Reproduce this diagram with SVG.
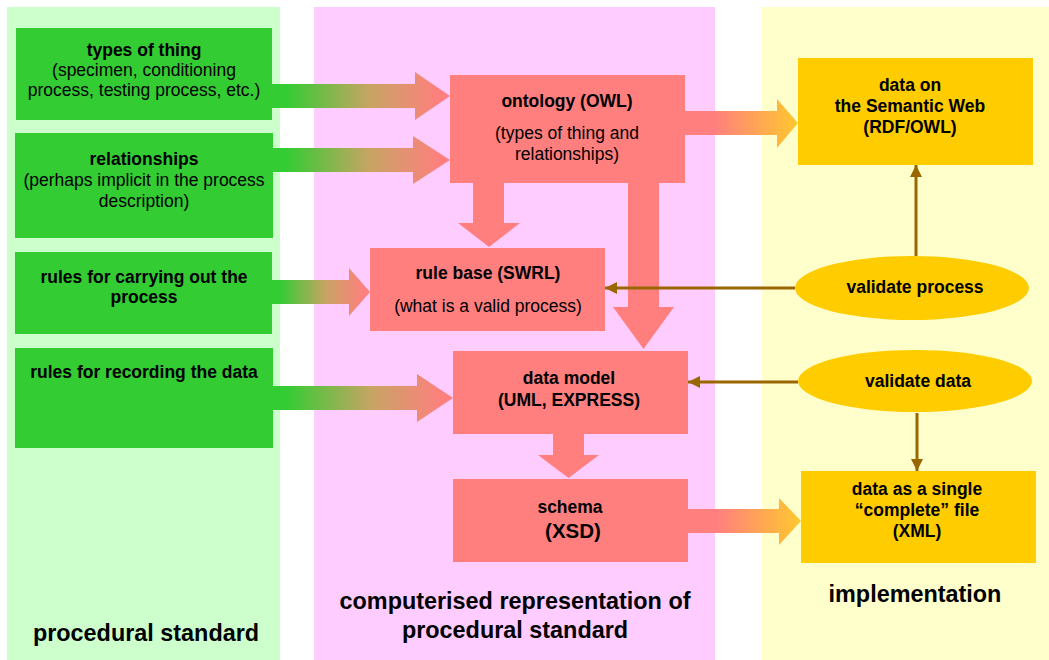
<svg xmlns="http://www.w3.org/2000/svg" width="1049" height="660" viewBox="0 0 1049 660">
<style>
text{font-family:"Liberation Sans",Arial,sans-serif;font-size:17.5px;fill:#000;text-anchor:middle}
.b{font-weight:bold}
.big{font-weight:bold;font-size:23.4px}
.gbox{fill:#33CC33}
.pbox{fill:#FF7F7F}
.ybox{fill:#FFCC00}
.link{stroke:#996600;stroke-width:3;fill:none;marker-end:url(#ah)}
.pink{fill:#FF7F7F}
</style>
<defs>
<marker id="ah" viewBox="0 0 12 12" refX="12" refY="6" markerWidth="13" markerHeight="12" orient="auto" markerUnits="userSpaceOnUse">
<path d="M0,0 L12,6 L0,12 z" fill="#996600"/>
</marker>
<linearGradient id="gp" x1="0" y1="0" x2="1" y2="0">
<stop offset="0.08" stop-color="#33CC33"/>
<stop offset="0.55" stop-color="#C8A464"/>
<stop offset="0.95" stop-color="#FF7F7F"/>
</linearGradient>
<linearGradient id="py" x1="0" y1="0" x2="1" y2="0">
<stop offset="0.25" stop-color="#FF7F7F"/>
<stop offset="1" stop-color="#FFC82E"/>
</linearGradient>
</defs>
<g id="panels">
<rect x="7" y="7" width="273" height="653" fill="#CCFFCC"/>
<rect x="314" y="7" width="401" height="653" fill="#FFCCFF"/>
<rect x="762" y="7" width="287" height="653" fill="#FFFFCC"/>
<text class="big" x="146" y="641">procedural standard</text>
<text class="big" x="515" y="609">computerised representation of</text>
<text class="big" x="515" y="638">procedural standard</text>
<text class="big" x="915" y="602">implementation</text>
</g>
<g id="connectors">
<polygon fill="url(#gp)" points="272,84 415,84 415,72 450,96 415,120 415,108 272,108"/>
<polygon fill="url(#gp)" points="272,148 413,148 413,136 450,160 413,184 413,172 272,172"/>
<polygon fill="url(#gp)" points="272,280 349,280 349,268 370,292 349,316 349,304 272,304"/>
<polygon fill="url(#gp)" points="272,386 417,386 417,374 453,398 417,422 417,410 272,410"/>
<polygon class="pink" points="473,183 504,183 504,223 520,223 489,247 458,223 473,223"/>
<polygon class="pink" points="628,183 659,183 659,307 674,307 643.5,349 613,307 628,307"/>
<polygon class="pink" points="553,434 584,434 584,455 599,455 568.5,478 538,455 553,455"/>
<polygon fill="url(#py)" points="685,111 777,111 777,99 798,123 777,148 777,135 685,135"/>
<polygon fill="url(#py)" points="688,509 779,509 779,498 801,521 779,545 779,533 688,533"/>
<line class="link" x1="795" y1="288" x2="605" y2="288"/>
<line class="link" x1="916" y1="256" x2="916" y2="165"/>
<line class="link" x1="798" y1="382" x2="688" y2="382"/>
<line class="link" x1="917" y1="413" x2="917" y2="471"/>
</g>
<g id="types-of-thing">
<rect class="gbox" x="16" y="28" width="256" height="92"/>
<text class="b" x="144" y="56">types of thing</text>
<text x="144" y="76">(specimen, conditioning</text>
<text x="144" y="96">process, testing process, etc.)</text>
</g>
<g id="relationships">
<rect class="gbox" x="15" y="133" width="258" height="105"/>
<text class="b" x="144" y="165">relationships</text>
<text x="144" y="186">(perhaps implicit in the process</text>
<text x="144" y="207">description)</text>
</g>
<g id="rules-carrying">
<rect class="gbox" x="15" y="252" width="257" height="82"/>
<text class="b" x="144" y="283">rules for carrying out the</text>
<text class="b" x="144" y="303">process</text>
</g>
<g id="rules-recording">
<rect class="gbox" x="15" y="348" width="258" height="100"/>
<text class="b" x="144" y="378">rules for recording the data</text>
</g>
<g id="ontology">
<rect class="pbox" x="450" y="75" width="235" height="108"/>
<text class="b" x="567" y="107">ontology (OWL)</text>
<text x="567" y="139">(types of thing and</text>
<text x="567" y="160">relationships)</text>
</g>
<g id="rule-base">
<rect class="pbox" x="370" y="248" width="235" height="83"/>
<text class="b" x="488" y="279">rule base (SWRL)</text>
<text x="488" y="312">(what is a valid process)</text>
</g>
<g id="data-model">
<rect class="pbox" x="453" y="351" width="235" height="83"/>
<text class="b" x="569" y="384">data model</text>
<text class="b" x="569" y="406">(UML, EXPRESS)</text>
</g>
<g id="schema">
<rect class="pbox" x="453" y="479" width="235" height="83"/>
<text class="b" x="570" y="513">schema</text>
<text class="b" x="573" y="538" style="font-size:20.5px">(XSD)</text>
</g>
<g id="semantic-web">
<rect class="ybox" x="798" y="58" width="235" height="107"/>
<text class="b" x="910" y="91">data on</text>
<text class="b" x="910" y="112">the Semantic Web</text>
<text class="b" x="910" y="133">(RDF/OWL)</text>
</g>
<g id="single-file">
<rect class="ybox" x="801" y="471" width="235" height="92"/>
<text class="b" x="917" y="495">data as a single</text>
<text class="b" x="917" y="516">“complete” file</text>
<text class="b" x="917" y="537">(XML)</text>
</g>
<g id="validate-process">
<ellipse class="ybox" cx="912" cy="288" rx="117" ry="32"/>
<text class="b" x="915" y="293">validate process</text>
</g>
<g id="validate-data">
<ellipse class="ybox" cx="915" cy="381" rx="117" ry="31"/>
<text class="b" x="918" y="387">validate data</text>
</g>
</svg>
